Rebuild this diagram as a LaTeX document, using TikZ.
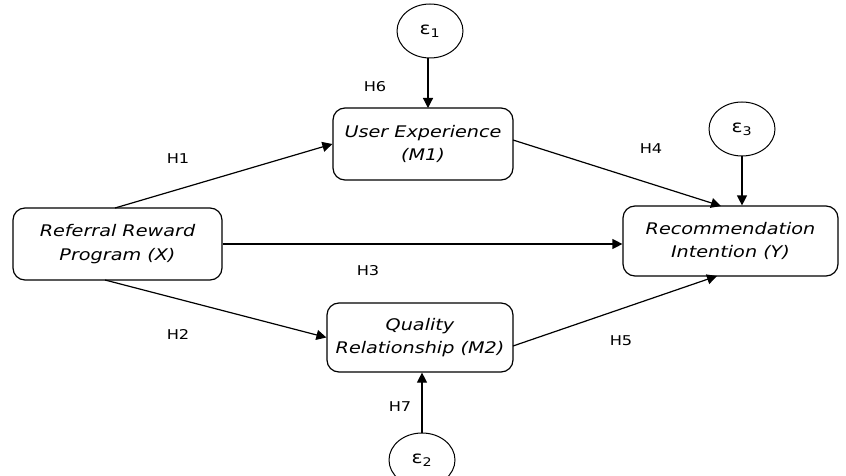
\documentclass[tikz,border=0pt]{standalone}
\usepackage{fontspec}
\setmainfont{DejaVu Sans}[FakeStretch=1.2]
\usetikzlibrary{arrows.meta,shapes.geometric}
\begin{document}
\begin{tikzpicture}[x=1pt,y=-1pt,
  box/.style={draw,rounded corners=12pt,line width=1.2pt,align=center,font=\itshape\fontsize{16}{23.5}\selectfont,inner sep=0pt},
  err/.style={draw,ellipse,line width=1pt,minimum width=66pt,minimum height=54pt,inner sep=0pt,font=\fontsize{17}{18}\selectfont},
  hl/.style={font=\fontsize{13.5}{15}\selectfont},
  arr/.style={-{Triangle[length=10pt,width=10pt]},line width=1.2pt}]
\useasboundingbox (0,0) rectangle (846,476);
\node[box,minimum width=209pt,minimum height=72pt] (X) at (117.5,244) {Referral Reward\\Program (X)};
\node[box,minimum width=180pt,minimum height=72pt] (M1) at (423,144) {User Experience\\(M1)};
\node[box,minimum width=186pt,minimum height=69pt] (M2) at (420,337.5) {Quality\\Relationship (M2)};
\node[box,minimum width=215pt,minimum height=70pt] (Y) at (730.5,241) {Recommendation\\Intention (Y)};
\node[err] (e1) at (430,31) {ε\textsubscript{1}};
\node[err] (e3) at (742,129) {ε\textsubscript{3}};
\node[err] (e2) at (422,460) {ε\textsubscript{2}};
\coordinate (x1) at (115,208);
\coordinate (x2) at (105,280);
\coordinate (m1r) at (513,140);
\coordinate (m2r) at (513,346);
\coordinate (yt) at (721,206);
\coordinate (yb) at (717,276);
\draw[arr] (x1) -- (M1.west);
\draw[arr] (x2) -- (M2.west);
\draw[arr] (X.east) -- (X.east -| Y.west);
\draw[arr] (m1r) -- (yt);
\draw[arr] (m2r) -- (yb);
\draw[arr] (e1.south -| 428,0) -- (428,108);
\draw[arr] (e3.south) -- (e3.south |- Y.north);
\draw[arr] (e2.north) -- (e2.north |- M2.south);
\node[hl] (h1) at (178,159) {H1};
\node[hl] (h2) at (178,334) {H2};
\node[hl] (h3) at (368,271) {H3};
\node[hl] (h4) at (651,149) {H4};
\node[hl] (h5) at (621,341) {H5};
\node[hl] (h6) at (375,87) {H6};
\node[hl] (h7) at (400,407) {H7};
\end{tikzpicture}
\end{document}
